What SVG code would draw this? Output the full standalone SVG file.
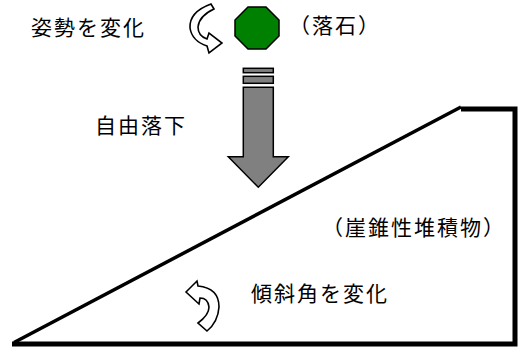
<svg xmlns="http://www.w3.org/2000/svg" width="520" height="347" viewBox="0 0 520 347">
<style>
  .t { font-family: "Noto Sans CJK JP", "Noto Sans CJK SC", sans-serif; font-size: 21px; letter-spacing: 2px; fill: #000; }
  .outline { fill: #fff; stroke: #000; stroke-width: 1.6; stroke-linejoin: miter; }
  .gray { fill: #808080; stroke: #000; stroke-width: 1.5; }
  .ground { fill: none; stroke: #000; stroke-linecap: butt; stroke-linejoin: miter; }
</style>
<rect width="520" height="347" fill="#fff"/>
<g id="connectors">
  <g id="fall-arrow">
    <rect class="gray" x="243.3" y="68.3" width="30" height="4.4"/>
    <rect class="gray" x="243.3" y="76.3" width="30" height="7"/>
    <path class="gray" d="M243.3,87.3 L273.3,87.3 L273.3,156.7 L288.3,156.7 L258.3,187.3 L228.3,156.7 L243.3,156.7 Z"/>
  </g>
</g>
<g id="terrain">
  <path class="ground" stroke-width="5" d="M12,344 L515,344 L515,109 L461,109"/>
  <path class="ground" stroke-width="3.5" d="M14,342.5 L461,107"/>
</g>
<g id="rock">
  <polygon points="248,7 266,7 279,20 279,36 266,49 248,49 235,36 235,20" fill="#008000" stroke="#000" stroke-width="1.5"/>
</g>
<g id="rotate-top">
  <path class="outline" d="M211,4 Q189,12 190,28 Q192,41 207,46 L209,53 L222,43 L209,33 L207,39 Q198,36 198,27 Q199,16 214,9 Z"/>
</g>
<g id="rotate-bottom">
  <path class="outline" d="M186,292 L197,281 L198,286 Q219,288 219,307 Q218,322 207,331 L198,323 Q209,315 209,307 Q208,298 200,298 L199,304 Z"/>
</g>
<g id="labels">
  <text class="t" x="31" y="35">姿勢を変化</text>
  <text class="t" x="289" y="33">（落石）</text>
  <text class="t" x="95" y="133">自由落下</text>
  <text class="t" x="322" y="235">（崖錐性堆積物）</text>
  <text class="t" x="251" y="301">傾斜角を変化</text>
</g>
</svg>
